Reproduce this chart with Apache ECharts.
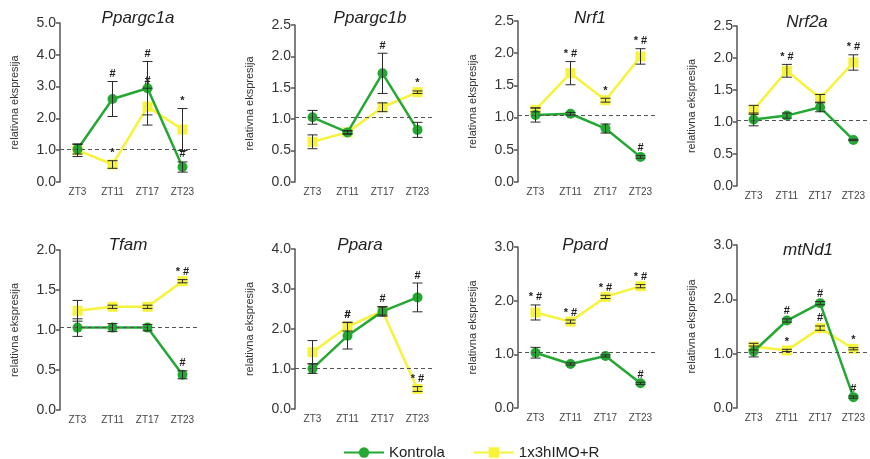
<!DOCTYPE html>
<html>
<head>
<meta charset="utf-8">
<script src="https://cdn.jsdelivr.net/npm/echarts@6/dist/echarts.min.js"></script>
<style>
  html, body { margin: 0; padding: 0; background: #ffffff; }
  #chart { width: 870px; height: 459px; }
</style>
</head>
<body>
<div id="chart"></div>
<script>
// Relative expression of mitochondrial biogenesis genes across four time points
const categories = ['ZT3', 'ZT11', 'ZT17', 'ZT23'];
const genes = ['Ppargc1a', 'Ppargc1b', 'Nrf1', 'Nrf2a', 'Tfam', 'Ppara', 'Ppard', 'mtNd1'];
const yMax = [5, 2.5, 2.5, 2.5, 2, 4, 3, 3];
const yStep = [1, 0.5, 0.5, 0.5, 0.5, 1, 1, 1];
const BASELINE = 1.03;

// Kontrola: mean and SEM per gene
const kontrola = [
  [1.03, 2.61, 2.95, 0.47],
  [1.03, 0.79, 1.73, 0.83],
  [1.04, 1.06, 0.83, 0.39],
  [1.04, 1.10, 1.23, 0.72],
  [1.03, 1.03, 1.03, 0.44],
  [1.01, 1.83, 2.44, 2.79],
  [1.03, 0.82, 0.97, 0.46],
  [1.04, 1.61, 1.93, 0.20]
];
const kontrolaErr = [
  [0.15, 0.55, 0.84, 0.16],
  [0.11, 0.03, 0.32, 0.12],
  [0.11, 0.02, 0.07, 0.02],
  [0.10, 0.04, 0.07, 0.01],
  [0.11, 0.05, 0.04, 0.05],
  [0.12, 0.33, 0.12, 0.36],
  [0.10, 0.02, 0.02, 0.02],
  [0.10, 0.03, 0.03, 0.02]
];
// 1x3hIMO+R: mean and SEM per gene
const tretman = [
  [1.00, 0.55, 2.37, 1.65],
  [0.64, 0.79, 1.19, 1.43],
  [1.12, 1.69, 1.27, 1.95],
  [1.19, 1.80, 1.37, 1.93],
  [1.24, 1.29, 1.29, 1.61],
  [1.42, 2.06, 2.45, 0.50],
  [1.78, 1.61, 2.07, 2.27],
  [1.13, 1.06, 1.47, 1.09]
];
const tretmanErr = [
  [0.20, 0.12, 0.58, 0.66],
  [0.11, 0.02, 0.07, 0.02],
  [0.03, 0.18, 0.03, 0.12],
  [0.07, 0.10, 0.06, 0.12],
  [0.13, 0.02, 0.02, 0.02],
  [0.29, 0.11, 0.10, 0.06],
  [0.14, 0.03, 0.03, 0.03],
  [0.06, 0.02, 0.04, 0.02]
];
// Significance marks: * vs Kontrola, # vs ZT3
const kontrolaMarks = [
  ['', '#', '#', '#'],
  ['', '', '#', ''],
  ['', '', '', '#'],
  ['', '', '', ''],
  ['', '', '', '#'],
  ['', '#', '#', '#'],
  ['', '', '', '#'],
  ['', '#', '#', '#']
];
const tretmanMarks = [
  ['', '*', '#', '*'],
  ['', '', '', '*'],
  ['', '*#', '*', '*#'],
  ['', '*#', '', '*#'],
  ['', '', '', '*#'],
  ['', '#', '', '*#'],
  ['*#', '*#', '*#', '*#'],
  ['', '*', '#', '*']
];

const GREEN = '#25a833';
const YELLOW = '#f6f33a';

// panel placement (pixels)
const panels = [
  { left: 60,  top: 23,  height: 159 },
  { left: 295, top: 25,  height: 157 },
  { left: 518, top: 21,  height: 161 },
  { left: 737, top: 26,  height: 160 },
  { left: 60,  top: 250, height: 160 },
  { left: 295, top: 249, height: 160 },
  { left: 518, top: 247, height: 161 },
  { left: 737, top: 245, height: 163 }
];
const titlePos = [
  { x: 133, y: 5 }, { x: 365, y: 5 }, { x: 585, y: 5 }, { x: 802, y: 9 },
  { x: 123, y: 232 }, { x: 355, y: 232 }, { x: 580, y: 232 }, { x: 803, y: 237 }
];
const BAND = 35;

function errorBarSeries(idx, means, errs, marks, z) {
  return {
    type: 'custom',
    xAxisIndex: idx,
    yAxisIndex: idx,
    z: z,
    silent: true,
    data: means.map((m, i) => [i, m, errs[i]]),
    renderItem: function (params, api) {
      const i = api.value(0);
      const m = api.value(1);
      const e = api.value(2);
      const top = api.coord([i, m + e]);
      const bot = api.coord([i, m - e]);
      const w = 5;
      const style = { stroke: '#2a2a2a', lineWidth: 1 };
      const children = [
        { type: 'line', shape: { x1: top[0], y1: top[1], x2: bot[0], y2: bot[1] }, style: style },
        { type: 'line', shape: { x1: top[0] - w, y1: top[1], x2: top[0] + w, y2: top[1] }, style: style },
        { type: 'line', shape: { x1: bot[0] - w, y1: bot[1], x2: bot[0] + w, y2: bot[1] }, style: style }
      ];
      const mark = marks[i];
      if (mark) {
        children.push({
          type: 'text',
          style: {
            x: top[0], y: top[1] - 2,
            text: mark.split('').join(' '),
            align: 'center', verticalAlign: 'bottom',
            fill: '#222',
            font: 'bold 11px "Liberation Sans", Arial, sans-serif'
          }
        });
      }
      return { type: 'group', children: children };
    }
  };
}

const grid = [], xAxis = [], yAxis = [], series = [], title = [];
genes.forEach((g, k) => {
  const p = panels[k];
  grid.push({ left: p.left, top: p.top, width: BAND * 4, height: p.height, containLabel: false });
  title.push({
    text: g, left: titlePos[k].x, top: titlePos[k].y, textAlign: 'center',
    textStyle: { fontStyle: 'italic', fontWeight: 'normal', fontSize: 17, color: '#222',
                 fontFamily: '"Liberation Sans", Arial, sans-serif' }
  });
  xAxis.push({
    type: 'category', gridIndex: k, data: categories, boundaryGap: true,
    axisLine: { show: false }, axisTick: { show: false },
    axisLabel: { fontSize: 10, color: '#444', margin: 5, fontFamily: '"Liberation Sans", Arial, sans-serif' }
  });
  yAxis.push({
    type: 'value', gridIndex: k, min: 0, max: yMax[k], interval: yStep[k],
    name: 'relativna ekspresija', nameLocation: 'middle', nameGap: 40, nameRotate: 90,
    nameTextStyle: { fontSize: 11, color: '#333', fontFamily: '"Liberation Sans Narrow", "Liberation Sans", Arial, sans-serif' },
    axisLine: { show: true, lineStyle: { color: '#555', width: 1.5 } },
    axisTick: { show: true, length: 4, lineStyle: { color: '#555', width: 1.5 } },
    splitLine: { show: false },
    axisLabel: { fontSize: 14, color: '#333', margin: 4, formatter: v => v.toFixed(1),
                 fontFamily: '"Liberation Sans", Arial, sans-serif' }
  });
  series.push({
    name: '1x3hIMO+R', type: 'line', xAxisIndex: k, yAxisIndex: k, z: 3,
    data: tretman[k], symbol: 'rect', symbolSize: 10,
    itemStyle: { color: YELLOW }, lineStyle: { color: YELLOW, width: 2.5 }
  });
  series.push({
    name: 'Kontrola', type: 'line', xAxisIndex: k, yAxisIndex: k, z: 4,
    data: kontrola[k], symbol: 'circle', symbolSize: 10,
    itemStyle: { color: GREEN }, lineStyle: { color: GREEN, width: 2.5 },
    markLine: {
      silent: true, symbol: 'none', label: { show: false },
      lineStyle: { type: [4, 3], color: '#555', width: 1 },
      data: [{ yAxis: BASELINE }]
    }
  });
  series.push(errorBarSeries(k, tretman[k], tretmanErr[k], tretmanMarks[k], 5));
  series.push(errorBarSeries(k, kontrola[k], kontrolaErr[k], kontrolaMarks[k], 6));
});

const chart = echarts.init(document.getElementById('chart'), null, { renderer: 'canvas' });
chart.setOption({
  animation: false,
  backgroundColor: '#ffffff',
  title: title,
  grid: grid,
  xAxis: xAxis,
  yAxis: yAxis,
  legend: {
    data: ['Kontrola', '1x3hIMO+R'],
    left: 338, top: 440,
    itemWidth: 40, itemHeight: 13, itemGap: 28,
    textStyle: { fontSize: 15, color: '#222', fontFamily: '"Liberation Sans", Arial, sans-serif' }
  },
  series: series
});
</script>
</body>
</html>
